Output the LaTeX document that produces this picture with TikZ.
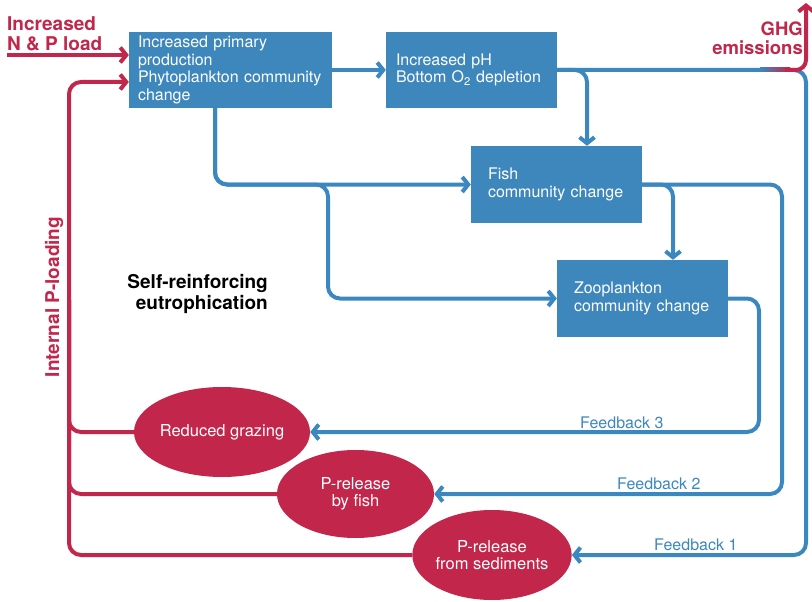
\documentclass[tikz,border=0pt]{standalone}
\usepackage{fontspec}
\setmainfont{TeX Gyre Heros}
\usetikzlibrary{arrows.meta,shapes.geometric}
\definecolor{boxblue}{HTML}{3E87BC}
\definecolor{lineblue}{HTML}{3B87BF}
\definecolor{crimson}{HTML}{C2264A}
\tikzset{
  boxnode/.style={fill=boxblue, text=white, align=left, inner ysep=0pt,
    font=\fontsize{16}{17.5}\selectfont},
  ellnode/.style={ellipse, fill=crimson, text=white, align=center, inner sep=0pt,
    font=\fontsize{16.5}{17}\selectfont},
  bline/.style={draw=lineblue, line width=4pt, rounded corners=12pt},
  bconn/.style={bline, -{Straight Barb[length=6pt,width=15pt]}},
  rline/.style={draw=crimson, line width=4pt, rounded corners=12pt},
  rconn/.style={rline, -{Straight Barb[length=6pt,width=15pt]}},
  fblabel/.style={text=lineblue, anchor=base west, inner sep=0pt, font=\fontsize{16}{17}\selectfont},
  redtitle/.style={text=crimson, inner sep=0pt, font=\bfseries\fontsize{19}{20}\selectfont}
}
\begin{document}
\begin{tikzpicture}[x=1pt,y=-1pt]
\useasboundingbox (0,0) rectangle (812,602);

% boxes
\node[boxnode, minimum width=203pt, minimum height=76pt, text width=185pt, inner xsep=9pt] (box1) at (230.5,70)
  {Increased primary\\production\\Phytoplankton community\\change};
\node[boxnode, minimum width=171pt, minimum height=76pt, text width=151pt, inner xsep=10pt] (box2) at (471.5,70)
  {Increased pH\\Bottom O\textsubscript{2} depletion};
\node[boxnode, minimum width=171pt, minimum height=77pt, text width=137pt, inner xsep=17pt] (fish) at (556.5,184.5)
  {Fish\\community change};
\node[boxnode, minimum width=171pt, minimum height=77pt, text width=137pt, inner xsep=17pt] (zoo) at (642.5,298.5)
  {Zooplankton\\community change};

% ellipses
\node[ellnode, minimum width=160pt, minimum height=90pt] (graz) at (222,432) {Reduced grazing};
\node[ellnode, minimum width=157pt, minimum height=88pt] (pfish) at (355.5,494) {P-release\\by fish};
\node[ellnode, minimum width=158pt, minimum height=90pt] (sed) at (492,555) {P-release\\from sediments};

% texts
\node[redtitle, anchor=north west, align=left] (np) at (7,16) {Increased\\N \& P load};
\node[redtitle, anchor=north east, align=right, font=\bfseries\fontsize{18.5}{18.5}\selectfont] (ghg) at (803,22) {GHG\\emissions};
\node[redtitle, rotate=90, font=\bfseries\fontsize{19}{19}\selectfont] (ipl) at (54,297) {Internal P-loading};
\node[anchor=north east, align=right, inner sep=0pt, font=\bfseries\fontsize{19}{21}\selectfont] (sre) at (268,274)
  {Self-reinforcing\\eutrophication};
\node[fblabel] (fb3) at (580,428) {Feedback 3};
\node[fblabel] (fb2) at (617,489) {Feedback 2};
\node[fblabel] (fb1) at (654,550) {Feedback 1};

% coordinates
\coordinate (npstart) at (7,55);
\coordinate (il) at (69,82);
\coordinate (ilmid) at (69,300);
\coordinate (j1) at (328,184.5);
\coordinate (j2) at (587,70);
\coordinate (j3) at (673,184.5);
\coordinate (r1) at (806,70);
\coordinate (r2) at (782,184.5);
\coordinate (r3) at (759,298.5);
\coordinate (g0) at (785,70);
\coordinate (g1) at (806,3);

% blue connectors
\draw[bconn] (box1.east) -- (box2.west);
\draw[bconn] ([xshift=-15.5pt]box1.south) |- (fish.west);
\draw[bconn] ([xshift=-15.5pt]box1.south) |- (j1) |- (zoo.west);
\draw[bconn] (box2.east) -- (j2) -- (j2 |- fish.north);
\draw[bconn] (box2.east) -- (r1) |- (sed.east);
\draw[bconn] (fish.east) -- (j3) -- (j3 |- zoo.north);
\draw[bconn] (fish.east) -- (r2) |- (pfish.east);
\draw[bconn] (zoo.east) -- (r3) |- (graz.east);

% red connectors
\draw[rconn] (npstart) -- ([yshift=15pt]box1.west);
\draw[rconn] (sed.west) -| (il) -- ([yshift=-12pt]box1.west);
\draw[rline] (graz.west) -| (ilmid);
\draw[rline] (pfish.west) -| (ilmid);

% GHG
\shade[left color=lineblue, right color=crimson] (760,68) rectangle (790,72);
\draw[rconn, rounded corners=10pt] (g0) -| (g1);
\end{tikzpicture}
\end{document}
